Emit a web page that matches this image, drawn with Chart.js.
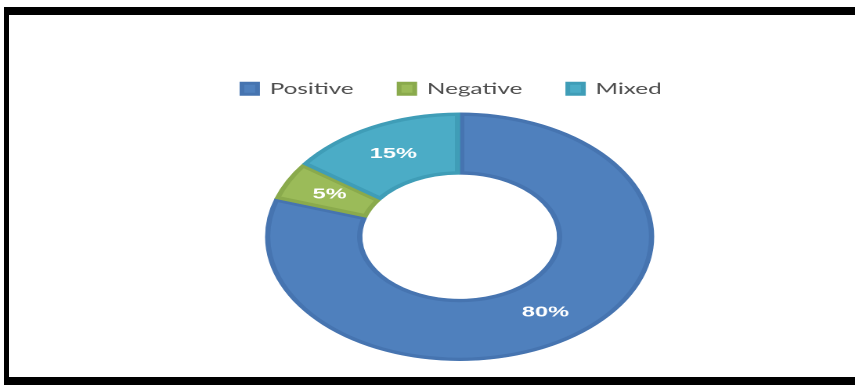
<!DOCTYPE html>
<html>
<head>
<meta charset="utf-8">
<script src="https://cdn.jsdelivr.net/npm/chart.js@4.4.0/dist/chart.umd.min.js"></script>
<style>
  html, body { margin: 0; padding: 0; background: #fff; overflow: hidden; }
  body { width: 855px; height: 385px; position: relative; }
  /* the reference picture is stretched sideways, so the chart is drawn narrow and scaled */
  #wrap { position: absolute; left: 0; top: 0; width: 546px; height: 385px;
          transform: scaleX(1.566); transform-origin: 0 0; }
  #frame { position: absolute; left: 4px; top: 7px; width: 900px; height: 378px;
           box-sizing: border-box; border: 8px solid #000; border-left-width: 5px;
           border-right: none; pointer-events: none; }
</style>
</head>
<body>
<div id="wrap"><canvas id="sentimentChart"></canvas></div>
<div id="frame"></div>
<script>
  // Data
  const categories = ['Positive', 'Negative', 'Mixed'];
  const shares = [80, 5, 15];

  const fillColors = ['#4F80BD', '#9BBB59', '#4BACC6'];
  const edgeColors = ['#4674B0', '#8AAA4C', '#3F9DB7'];

  // percent labels in the middle of each slice
  const sliceLabels = {
      id: 'sliceLabels',
      afterDatasetsDraw(chart) {
          const ctx = chart.ctx;
          const meta = chart.getDatasetMeta(0);
          ctx.save();
          ctx.font = 'bold 15px "Liberation Sans", Arial, sans-serif';
          ctx.fillStyle = '#ffffff';
          ctx.textAlign = 'center';
          ctx.textBaseline = 'middle';
          meta.data.forEach((arc, i) => {
              const p = arc.tooltipPosition();
              ctx.fillText(shares[i] + '%', p.x, p.y);
          });
          ctx.restore();
      }
  };

  // a bit more room under the legend, and nudge it left of the ring centre
  const legendGap = {
      id: 'legendGap',
      beforeInit(chart) {
          const fit = chart.legend.fit;
          chart.legend.fit = function() {
              fit.call(this);
              this.height += 6;
          };
      },
      afterLayout(chart) {
          chart.legend.left -= 5;
          chart.legend.right -= 5;
      }
  };

  const ctx = document.getElementById('sentimentChart').getContext('2d');
  new Chart(ctx, {
      type: 'doughnut',
      data: {
          labels: categories,
          datasets: [{
              data: shares,
              backgroundColor: fillColors,
              borderColor: edgeColors,
              borderWidth: 3,
              borderAlign: 'inner',
              hoverOffset: 0
          }]
      },
      options: {
          responsive: true,
          maintainAspectRatio: false,
          animation: false,
          devicePixelRatio: 2,
          cutout: '50%',
          layout: {
              padding: { top: 52, bottom: 24, left: 41, right: 0 }
          },
          plugins: {
              legend: {
                  position: 'top',
                  labels: {
                      boxWidth: 10,
                      boxHeight: 11,
                      padding: 29,
                      color: '#4d4d4d',
                      font: { family: 'Lato, "Liberation Sans", sans-serif', size: 15.5 }
                  }
              },
              tooltip: { enabled: false }
          }
      },
      plugins: [sliceLabels, legendGap]
  });
</script>
</body>
</html>
